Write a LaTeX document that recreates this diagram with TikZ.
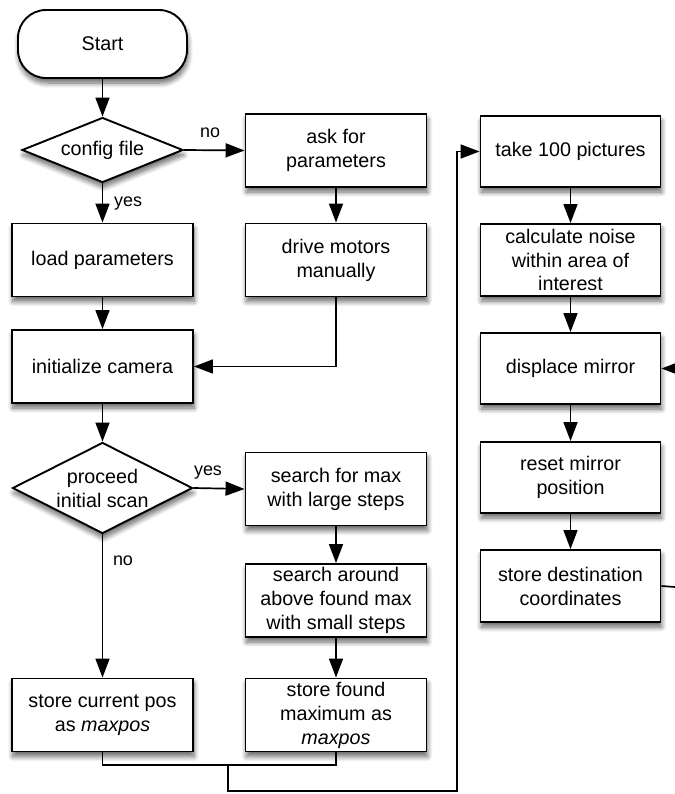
\documentclass[tikz,border=0pt]{standalone}
\usepackage{fontspec}
\setmainfont{Liberation Sans}
\usetikzlibrary{arrows.meta,shapes.geometric,shadows.blur}

\tikzset{
  flow/.style={line width=1.7bp, draw=black},
  arr/.style={flow, -{Triangle[length=19bp,width=14bp]}},
  shade/.style={blur shadow={shadow xshift=1bp, shadow yshift=-5bp,
      shadow blur radius=5bp, shadow blur steps=8, shadow opacity=60}},
  boxnode/.style={draw=black, line width=1.9bp, fill=white, shade,
      minimum width=181bp, minimum height=73bp, inner sep=0pt, align=center,
      font=\fontsize{19.8}{24}\selectfont},
  startnode/.style={boxnode, minimum width=169bp, minimum height=68bp,
      rounded corners=28bp},
  decision/.style={draw=black, line width=1.9bp, fill=white, shade,
      diamond, inner sep=0pt},
  dectext/.style={align=center, font=\fontsize{19.8}{24}\selectfont},
  edgetext/.style={font=\fontsize{18}{22}\selectfont, inner sep=0pt},
}

\begin{document}
\begin{tikzpicture}[x=1bp, y=-1bp]
\useasboundingbox (0,0) rectangle (675,794);

% left column
\node[startnode] (start) at (102.5,44) {Start};
\node[decision, minimum width=161bp, minimum height=65bp] (cfg) at (102.5,150) {};
\node[dectext] at (cfg.center) {config file};
\node[boxnode] (load) at (102.5,260) {load parameters};
\node[boxnode] (init) at (102.5,366.5) {initialize camera};
\node[decision, minimum width=180bp, minimum height=91bp] (scan) at (102.5,488) {};
\node[dectext] at (scan.center) {proceed\\initial scan};
\node[boxnode] (cur) at (102.5,715) {store current pos\\as \textit{maxpos}};

% middle column
\node[boxnode] (ask) at (336,150.5) {ask for\\parameters};
\node[boxnode] (drive) at (336,260) {drive motors\\manually};
\node[boxnode] (big) at (336,489) {search for max\\with large steps};
\node[boxnode] (fine) at (336,600.5) {search around\\above found max\\with small steps};
\node[boxnode] (found) at (336,715) {store found\\maximum as\\\textit{maxpos}};

% right column
\node[boxnode, minimum width=180bp, minimum height=71bp] (take) at (570.5,151.5) {take 100 pictures};
\node[boxnode, minimum width=180bp, minimum height=72bp] (noise) at (570.5,260) {calculate noise\\within area of\\interest};
\node[boxnode, minimum width=180bp, minimum height=71bp] (disp) at (570.5,368.5) {displace mirror};
\node[boxnode, minimum width=180bp, minimum height=71bp] (reset) at (570.5,477.5) {reset mirror\\position};
\node[boxnode, minimum width=180bp, minimum height=72bp] (dest) at (570.5,586) {store destination\\coordinates};

% connectors, left and middle
\draw[arr] (start) -- (cfg);
\draw[arr] (cfg.east) -- (ask.west);
\node[edgetext] at (210,133) {no};
\draw[arr] (cfg.south) -- (load.north);
\node[edgetext, anchor=west] at (114,204) {yes};
\draw[arr] (ask) -- (drive);
\draw[arr] (load) -- (init);
\draw[arr] (drive.south) |- (init.east);
\draw[arr] (init.south) -- (scan.north);
\draw[arr] (scan.east) -- (big.west);
\node[edgetext] at (208,473) {yes};
\draw[arr] (scan.south) -- (cur.north);
\node[edgetext] at (123,561) {no};
\draw[arr] (big) -- (fine);
\draw[arr] (fine) -- (found);

% merge of both results, then on to the noise measurement
\coordinate (join) at (228,765);
\coordinate (low) at (457,791);
\draw[flow] (cur.south) |- (join) -| (found.south);
\draw[arr] (join) |- (low) |- (take.west);

% right column
\draw[arr] (take) -- (noise);
\draw[arr] (noise) -- (disp);
\draw[arr] (disp) -- (reset);
\draw[arr] (reset) -- (dest);
\coordinate (outA) at (675,587);
\coordinate (outB) at (675,368.5);
\draw[flow] (dest.east) -- (outA);
\draw[arr] (outB) -- (disp.east);
\end{tikzpicture}
\end{document}
